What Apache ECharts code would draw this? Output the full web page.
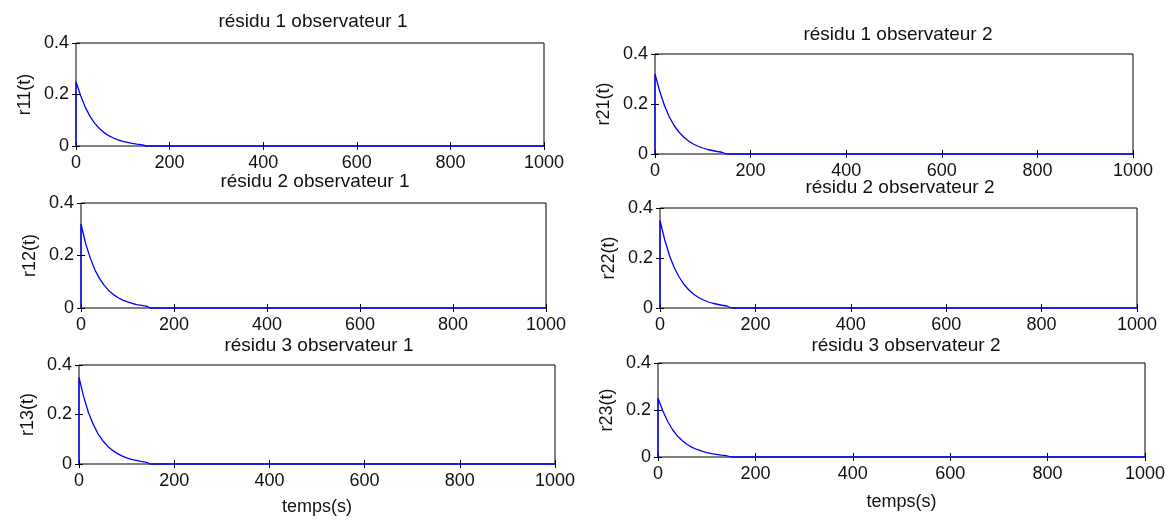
<!DOCTYPE html>
<html>
<head>
<meta charset="utf-8">
<script src="https://cdn.jsdelivr.net/npm/echarts@6/dist/echarts.min.js"></script>
<style>
  html, body { margin: 0; padding: 0; background: #fff; }
  #chart { width: 1176px; height: 524px; }
</style>
</head>
<body>
<div id="chart"></div>
<script>
// Sample instants (s) of the six observer residuals
const times = [0, 0, 10, 20, 30, 40, 50, 60, 70, 80, 90, 100, 110, 120, 130, 140, 150, 1000];

// Observer 1 residuals
const r11 = [0, 0.25, 0.195, 0.150, 0.115, 0.088, 0.068, 0.052, 0.040, 0.031, 0.024, 0.018, 0.014, 0.010, 0.007, 0.005, 0, 0];
const r12 = [0, 0.32, 0.245, 0.190, 0.145, 0.112, 0.086, 0.066, 0.051, 0.039, 0.030, 0.023, 0.018, 0.013, 0.010, 0.007, 0, 0];
const r13 = [0, 0.35, 0.270, 0.207, 0.160, 0.122, 0.094, 0.072, 0.056, 0.043, 0.033, 0.025, 0.019, 0.015, 0.011, 0.008, 0, 0];
// Observer 2 residuals
const r21 = [0, 0.32, 0.250, 0.193, 0.148, 0.114, 0.088, 0.068, 0.052, 0.040, 0.031, 0.024, 0.018, 0.014, 0.010, 0.007, 0, 0];
const r22 = [0, 0.35, 0.272, 0.209, 0.161, 0.124, 0.095, 0.073, 0.056, 0.043, 0.033, 0.025, 0.019, 0.015, 0.011, 0.008, 0, 0];
const r23 = [0, 0.25, 0.196, 0.151, 0.116, 0.089, 0.069, 0.053, 0.041, 0.032, 0.025, 0.019, 0.014, 0.011, 0.008, 0.006, 0, 0];

const titles = ['résidu 1 observateur 1', 'résidu 1 observateur 2',
                'résidu 2 observateur 1', 'résidu 2 observateur 2',
                'résidu 3 observateur 1', 'résidu 3 observateur 2'];
const yNames = ['r11(t)', 'r21(t)', 'r12(t)', 'r22(t)', 'r13(t)', 'r23(t)'];
const xName = 'temps(s)';
const xTicks = { min: 0, max: 1000, interval: 200 };
const yTicks = { min: 0, max: 0.4, interval: 0.2 };

const seriesData = [r11, r21, r12, r22, r13, r23];

// Panel frames, in pixels
const panels = [
  { left: 76,  top: 43,  width: 468, height: 103, tx: 308, ty: 18 },
  { left: 655, top: 54,  width: 478, height: 100, tx: 893, ty: 31 },
  { left: 81,  top: 203, width: 465, height: 105, tx: 310, ty: 178 },
  { left: 660, top: 208, width: 477, height: 100, tx: 895, ty: 184 },
  { left: 79,  top: 365, width: 476, height: 99,  tx: 314, ty: 342 },
  { left: 658, top: 363, width: 487, height: 94,  tx: 901, ty: 342 }
];

const FONT = '"Liberation Sans", Arial, sans-serif';
const TXT = '#111';

const grid = [], xAxis = [], yAxis = [], series = [], title = [];

panels.forEach((p, i) => {
  grid.push({
    left: p.left, top: p.top, width: p.width, height: p.height,
    show: true, borderColor: '#000', borderWidth: 1, backgroundColor: '#fff'
  });
  title.push({
    text: titles[i], left: p.tx, top: p.ty - 11, textAlign: 'center',
    textStyle: { fontFamily: FONT, fontSize: 19, fontWeight: 'normal', color: TXT }
  });
  const tick = { show: true, inside: true, length: 4, lineStyle: { color: '#000', width: 1 } };
  // bottom axis with labels
  xAxis.push({
    type: 'value', gridIndex: i, position: 'bottom',
    min: xTicks.min, max: xTicks.max, interval: xTicks.interval,
    axisLine: { show: false }, splitLine: { show: false }, axisTick: tick,
    axisLabel: { fontFamily: FONT, fontSize: 18, color: TXT, margin: 8,
                 formatter: v => String(v) },
    name: i >= 4 ? xName : '', nameLocation: 'middle', nameGap: i === 4 ? 34 : 36,
    nameTextStyle: { fontFamily: FONT, fontSize: 18, color: TXT }
  });
  // top axis, ticks only
  xAxis.push({
    type: 'value', gridIndex: i, position: 'top',
    min: xTicks.min, max: xTicks.max, interval: xTicks.interval,
    axisLine: { show: false }, splitLine: { show: false }, axisTick: tick,
    axisLabel: { show: false }
  });
  // left axis with labels
  yAxis.push({
    type: 'value', gridIndex: i, position: 'left',
    min: yTicks.min, max: yTicks.max, interval: yTicks.interval,
    axisLine: { show: false }, splitLine: { show: false }, axisTick: tick,
    axisLabel: { fontFamily: FONT, fontSize: 18, color: TXT, margin: 7,
                 formatter: v => String(v) },
    name: yNames[i], nameLocation: 'middle', nameGap: 42, nameRotate: 90,
    nameTextStyle: { fontFamily: FONT, fontSize: 18, color: TXT }
  });
  // right axis, ticks only
  yAxis.push({
    type: 'value', gridIndex: i, position: 'right',
    min: yTicks.min, max: yTicks.max, interval: yTicks.interval,
    axisLine: { show: false }, splitLine: { show: false }, axisTick: tick,
    axisLabel: { show: false }
  });
  series.push({
    type: 'line', xAxisIndex: 2 * i, yAxisIndex: 2 * i,
    data: times.map((t, k) => [t, seriesData[i][k]]),
    showSymbol: false, clip: false, animation: false,
    lineStyle: { color: '#0000ff', width: 1.3 }, z: 5
  });
});

const chart = echarts.init(document.getElementById('chart'), null, { renderer: 'canvas' });
chart.setOption({
  backgroundColor: '#fff',
  animation: false,
  title, grid, xAxis, yAxis, series
});
</script>
</body>
</html>
